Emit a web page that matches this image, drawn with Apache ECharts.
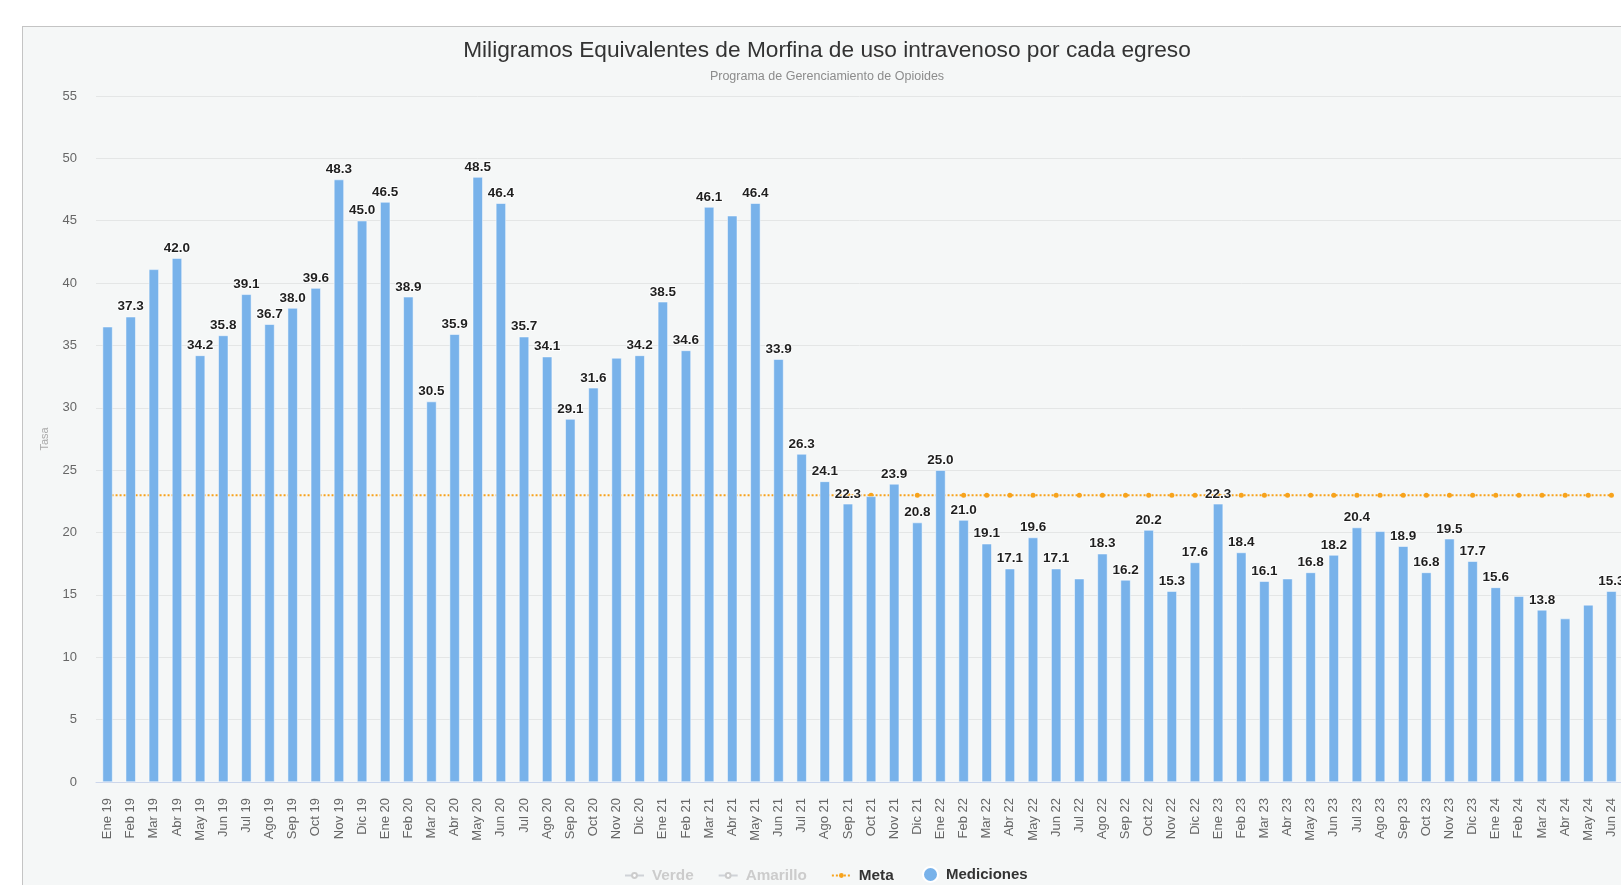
<!DOCTYPE html>
<html lang="es">
<head>
<meta charset="utf-8">
<title>Miligramos Equivalentes de Morfina</title>
<script src="https://cdn.jsdelivr.net/npm/echarts@6/dist/echarts.min.js"></script>
<style>
  html, body {
    margin: 0;
    padding: 0;
    background: #ffffff;
    overflow: hidden;
  }
  .panel {
    position: absolute;
    left: 22px;
    top: 26px;
    width: 1610px;
    height: 902px;
    border: 1px solid #c4c4c4;
    background: #f5f7f7;
  }
  .morfinaChart {
    width: 1608px;
    height: 900px;
  }
</style>
</head>
<body>
<div class="panel">
  <div class="morfinaChart" id="morfinaChart"></div>
</div>
<script>
// meses (eje x)
const categories = [
  "Ene 19", "Feb 19", "Mar 19", "Abr 19", "May 19", "Jun 19", "Jul 19", "Ago 19", "Sep 19", "Oct 19", "Nov 19", "Dic 19",
  "Ene 20", "Feb 20", "Mar 20", "Abr 20", "May 20", "Jun 20", "Jul 20", "Ago 20", "Sep 20", "Oct 20", "Nov 20", "Dic 20",
  "Ene 21", "Feb 21", "Mar 21", "Abr 21", "May 21", "Jun 21", "Jul 21", "Ago 21", "Sep 21", "Oct 21", "Nov 21", "Dic 21",
  "Ene 22", "Feb 22", "Mar 22", "Abr 22", "May 22", "Jun 22", "Jul 22", "Ago 22", "Sep 22", "Oct 22", "Nov 22", "Dic 22",
  "Ene 23", "Feb 23", "Mar 23", "Abr 23", "May 23", "Jun 23", "Jul 23", "Ago 23", "Sep 23", "Oct 23", "Nov 23", "Dic 23",
  "Ene 24", "Feb 24", "Mar 24", "Abr 24", "May 24", "Jun 24"
];

// mediciones mensuales
const mediciones = [
  36.5, 37.3, 41.1, 42.0, 34.2, 35.8, 39.1, 36.7, 38.0, 39.6, 48.3, 45.0,
  46.5, 38.9, 30.5, 35.9, 48.5, 46.4, 35.7, 34.1, 29.1, 31.6, 34.0, 34.2,
  38.5, 34.6, 46.1, 45.4, 46.4, 33.9, 26.3, 24.1, 22.3, 22.9, 23.9, 20.8,
  25.0, 21.0, 19.1, 17.1, 19.6, 17.1, 16.3, 18.3, 16.2, 20.2, 15.3, 17.6,
  22.3, 18.4, 16.1, 16.3, 16.8, 18.2, 20.4, 20.1, 18.9, 16.8, 19.5, 17.7,
  15.6, 14.9, 13.8, 13.1, 14.2, 15.3
];

// meta
const meta = [
  23, 23, 23, 23, 23, 23, 23, 23, 23, 23, 23, 23,
  23, 23, 23, 23, 23, 23, 23, 23, 23, 23, 23, 23,
  23, 23, 23, 23, 23, 23, 23, 23, 23, 23, 23, 23,
  23, 23, 23, 23, 23, 23, 23, 23, 23, 23, 23, 23,
  23, 23, 23, 23, 23, 23, 23, 23, 23, 23, 23, 23,
  23, 23, 23, 23, 23, 23
];

// meses sin etiqueta visible en el original
const sinEtiqueta = ["Ene 19", "Mar 19", "Nov 20", "Abr 21", "Oct 21", "Jul 22", "Abr 23", "Ago 23", "Feb 24", "Abr 24", "May 24"];

const yTicks = { min: 0, max: 55, interval: 5 };

const fontFamily = "'Liberation Sans', Arial, Helvetica, sans-serif";

var myChart = echarts.init(document.getElementById("morfinaChart"));

var option = {
  animation: false,
  textStyle: { fontFamily: fontFamily },
  //titulo
  title: {
    text: "Miligramos Equivalentes de Morfina de uso intravenoso por cada egreso",
    subtext: "Programa de Gerenciamiento de Opioides",
    left: "center",
    top: 12,
    padding: 0,
    itemGap: 8,
    textStyle: {
      fontFamily: fontFamily,
      fontSize: 22.7,
      fontWeight: "normal",
      color: "#333333",
    },
    subtextStyle: {
      fontFamily: fontFamily,
      fontSize: 12.5,
      color: "#8c8c8c",
    },
  },
  //leyendas (dos, para tener tamaños de icono distintos)
  legend: [
    {
      data: ["Verde", "Amarillo", "Meta"],
      left: 596,
      top: 836,
      itemWidth: 19,
      itemHeight: 6,
      itemGap: 24,
      inactiveColor: "#cccccc",
      selected: { Verde: false, Amarillo: false },
      textStyle: {
        fontFamily: fontFamily,
        fontSize: 15.3,
        fontWeight: "bold",
        color: "#333333",
        padding: [0, 0, 0, 3],
      },
    },
    {
      data: [{ name: "Mediciones", icon: "circle" }],
      left: 894,
      top: 834,
      itemWidth: 15,
      itemHeight: 15,
      inactiveColor: "#cccccc",
      textStyle: {
        fontFamily: fontFamily,
        fontSize: 15,
        fontWeight: "bold",
        color: "#333333",
        padding: [0, 0, 0, 3],
      },
    },
  ],
  grid: {
    left: 73,
    top: 69,
    right: 8,
    bottom: 145,
  },
  //eje x
  xAxis: {
    type: "category",
    data: categories,
    axisLine: { lineStyle: { color: "#ccd6eb" } },
    axisTick: { show: false },
    axisLabel: {
      rotate: 90,
      interval: 0,
      margin: 16,
      fontSize: 13,
      color: "#666666",
      fontFamily: fontFamily,
    },
  },
  //eje y
  yAxis: {
    type: "value",
    min: yTicks.min,
    max: yTicks.max,
    interval: yTicks.interval,
    name: "Tasa",
    nameLocation: "middle",
    nameGap: 46,
    nameTextStyle: {
      color: "#aaaaaa",
      fontSize: 11,
      fontFamily: fontFamily,
    },
    axisLine: { show: false },
    axisTick: { show: false },
    axisLabel: {
      margin: 19,
      fontSize: 13,
      color: "#666666",
      fontFamily: fontFamily,
    },
    splitLine: { lineStyle: { color: "#e4e6e6" } },
  },
  series: [
    {
      name: "Verde",
      type: "line",
      data: [],
      itemStyle: { color: "#8fd18f" },
    },
    {
      name: "Amarillo",
      type: "line",
      data: [],
      itemStyle: { color: "#f2d35a" },
    },
    {
      name: "Meta",
      type: "line",
      z: 1,
      data: meta,
      symbol: "circle",
      symbolSize: 5,
      showAllSymbol: true,
      itemStyle: { color: "#f7a31c" },
      lineStyle: { color: "#f7a31c", width: 2, type: "dotted" },
    },
    {
      name: "Mediciones",
      type: "bar",
      z: 2,
      barWidth: 10,
      itemStyle: { color: "#78b2ea", borderColor: "#ffffff", borderWidth: 0.5 },
      label: {
        show: true,
        position: "top",
        distance: 3,
        fontSize: 13.5,
        fontWeight: "bold",
        color: "#1f1f1f",
        fontFamily: fontFamily,
        textBorderColor: "#ffffff",
        textBorderWidth: 1.5,
        formatter: function (p) {
          return p.value.toFixed(1);
        },
      },
      data: mediciones.map(function (v, i) {
        if (sinEtiqueta.indexOf(categories[i]) >= 0) {
          return { value: v, label: { show: false } };
        }
        return v;
      }),
    },
  ],
};

myChart.setOption(option);
</script>
</body>
</html>
